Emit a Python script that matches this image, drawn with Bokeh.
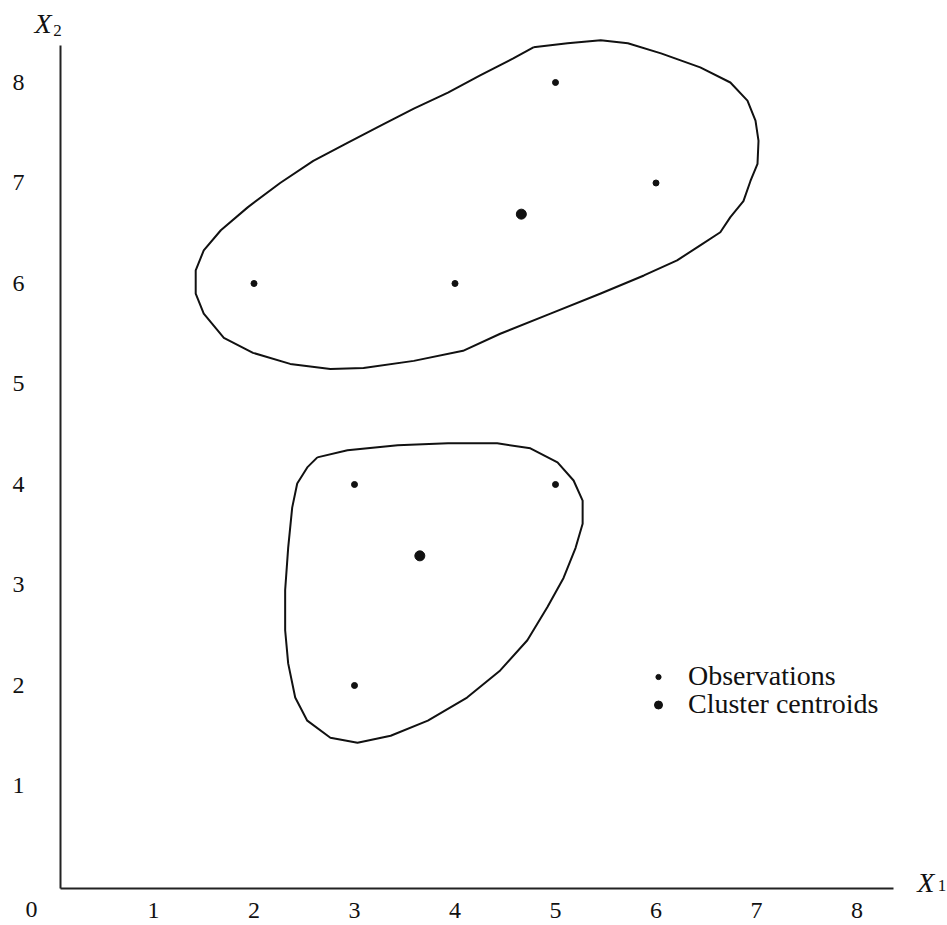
from bokeh.plotting import figure
from bokeh.models import Range1d, FixedTicker, Label, Legend, LegendItem
from bokeh.embed import file_html
from bokeh.resources import INLINE

# ---- data ----
obs_x = [2, 4, 5, 6, 3, 5, 3]
obs_y = [6, 6, 8, 7, 4, 4, 2]
cen_x = [4.66, 3.65]
cen_y = [6.69, 3.29]

x_ticks = [1, 2, 3, 4, 5, 6, 7, 8]
y_ticks = [1, 2, 3, 4, 5, 6, 7, 8]

# outline of cluster 1 (upper)
c1_x = [4.78, 5.12, 5.45, 5.72, 6.05, 6.44, 6.74, 6.91, 6.99, 7.02, 7.01, 6.94,
        6.87, 6.74, 6.64, 6.44, 6.21, 5.88, 5.45, 4.95, 4.45, 4.08, 3.59, 3.09,
        2.76, 2.36, 1.99, 1.70, 1.50, 1.42, 1.42, 1.50, 1.67, 1.94, 2.26, 2.59,
        2.93, 3.26, 3.59, 3.93, 4.25, 4.58, 4.78]
c1_y = [8.35, 8.39, 8.42, 8.39, 8.29, 8.15, 8.00, 7.82, 7.62, 7.42, 7.19, 7.02,
        6.82, 6.66, 6.51, 6.38, 6.23, 6.08, 5.90, 5.70, 5.50, 5.33, 5.23, 5.16,
        5.15, 5.20, 5.31, 5.46, 5.70, 5.90, 6.13, 6.33, 6.53, 6.76, 7.00, 7.22,
        7.40, 7.57, 7.74, 7.90, 8.07, 8.24, 8.35]

# outline of cluster 2 (lower)
c2_x = [2.63, 2.93, 3.43, 3.93, 4.42, 4.75, 5.02, 5.18, 5.27, 5.27, 5.20, 5.08,
        4.92, 4.72, 4.45, 4.12, 3.73, 3.36, 3.03, 2.76, 2.53, 2.41, 2.34, 2.31,
        2.31, 2.34, 2.38, 2.43, 2.53, 2.63]
c2_y = [4.27, 4.34, 4.39, 4.41, 4.41, 4.36, 4.22, 4.04, 3.84, 3.61, 3.37, 3.07,
        2.78, 2.45, 2.15, 1.88, 1.65, 1.50, 1.43, 1.48, 1.65, 1.88, 2.22, 2.55,
        2.95, 3.37, 3.77, 4.01, 4.17, 4.27]

# where the two axis lines sit and how far they run (data units)
X_AXIS_AT, Y_AXIS_AT = -0.02, 0.075
X_AXIS_END, Y_AXIS_END = 8.363, 8.368

SERIF = "Liberation Serif"
INK = "#111111"

p = figure(width=947, height=925,
           x_range=Range1d(-0.5224, 8.9005), y_range=Range1d(-0.3881, 8.8159),
           output_backend="svg", toolbar_location=None)
p.min_border = 0
p.min_border_left = p.min_border_right = p.min_border_top = p.min_border_bottom = 0
p.outline_line_color = None
p.grid.visible = False
p.background_fill_color = "white"
p.border_fill_color = "white"

for ax in (p.xaxis[0], p.yaxis[0]):
    ax.axis_line_color = "#222222"
    ax.axis_line_width = 2
    ax.major_tick_line_color = None
    ax.minor_tick_line_color = None
    ax.major_label_text_font = SERIF
    ax.major_label_text_font_size = "24px"
    ax.major_label_text_color = INK

p.xaxis.ticker = FixedTicker(ticks=x_ticks)
p.yaxis.ticker = FixedTicker(ticks=y_ticks)
p.xaxis.fixed_location = X_AXIS_AT
p.yaxis.fixed_location = Y_AXIS_AT
p.xaxis.bounds = (Y_AXIS_AT, X_AXIS_END)
p.yaxis.bounds = (X_AXIS_AT, Y_AXIS_END)
p.xaxis.major_label_standoff = 8
p.yaxis.major_label_standoff = 30

# cluster outlines
p.line(c1_x, c1_y, line_color=INK, line_width=2, line_join="round")
p.line(c2_x, c2_y, line_color=INK, line_width=2, line_join="round")

obs_r = p.scatter(obs_x, obs_y, size=6, color=INK)
cen_r = p.scatter(cen_x, cen_y, size=10, color=INK)

# legends (two, so that the key dots keep their different sizes)
leg1 = Legend(items=[LegendItem(label="Observations", renderers=[obs_r])],
              location=(648, 233), glyph_width=20, glyph_height=13,
              label_standoff=20)
leg2 = Legend(items=[LegendItem(label="Cluster centroids", renderers=[cen_r])],
              location=(648, 205), glyph_width=20, glyph_height=23,
              label_standoff=20)
for lg in (leg1, leg2):
    lg.label_text_font = SERIF
    lg.label_text_font_size = "28px"
    lg.label_text_color = INK
    lg.border_line_color = None
    lg.background_fill_alpha = 0
    lg.padding = 0
    lg.margin = 0
    lg.spacing = 0
    p.add_layout(lg, "center")

# axis names and origin label
lab_style = dict(text_font=SERIF, text_color=INK, text_align="center")
p.add_layout(Label(x=-0.10, y=8.587, text="X", text_font_size="28px",
                   text_font_style="italic", text_baseline="alphabetic", **lab_style))
p.add_layout(Label(x=0.045, y=8.517, text="2", text_font_size="17px",
                   text_baseline="alphabetic", **lab_style))
p.add_layout(Label(x=8.685, y=0.0398, text="X", text_font_size="28px",
                   text_font_style="italic", text_baseline="alphabetic", **lab_style))
p.add_layout(Label(x=8.845, y=0.01, text="1", text_font_size="17px",
                   text_baseline="alphabetic", **lab_style))
p.add_layout(Label(x=-0.214, y=-0.225, text="0", text_font_size="24px",
                   text_baseline="middle", **lab_style))

open("out.html", "w").write(file_html(p, INLINE))
